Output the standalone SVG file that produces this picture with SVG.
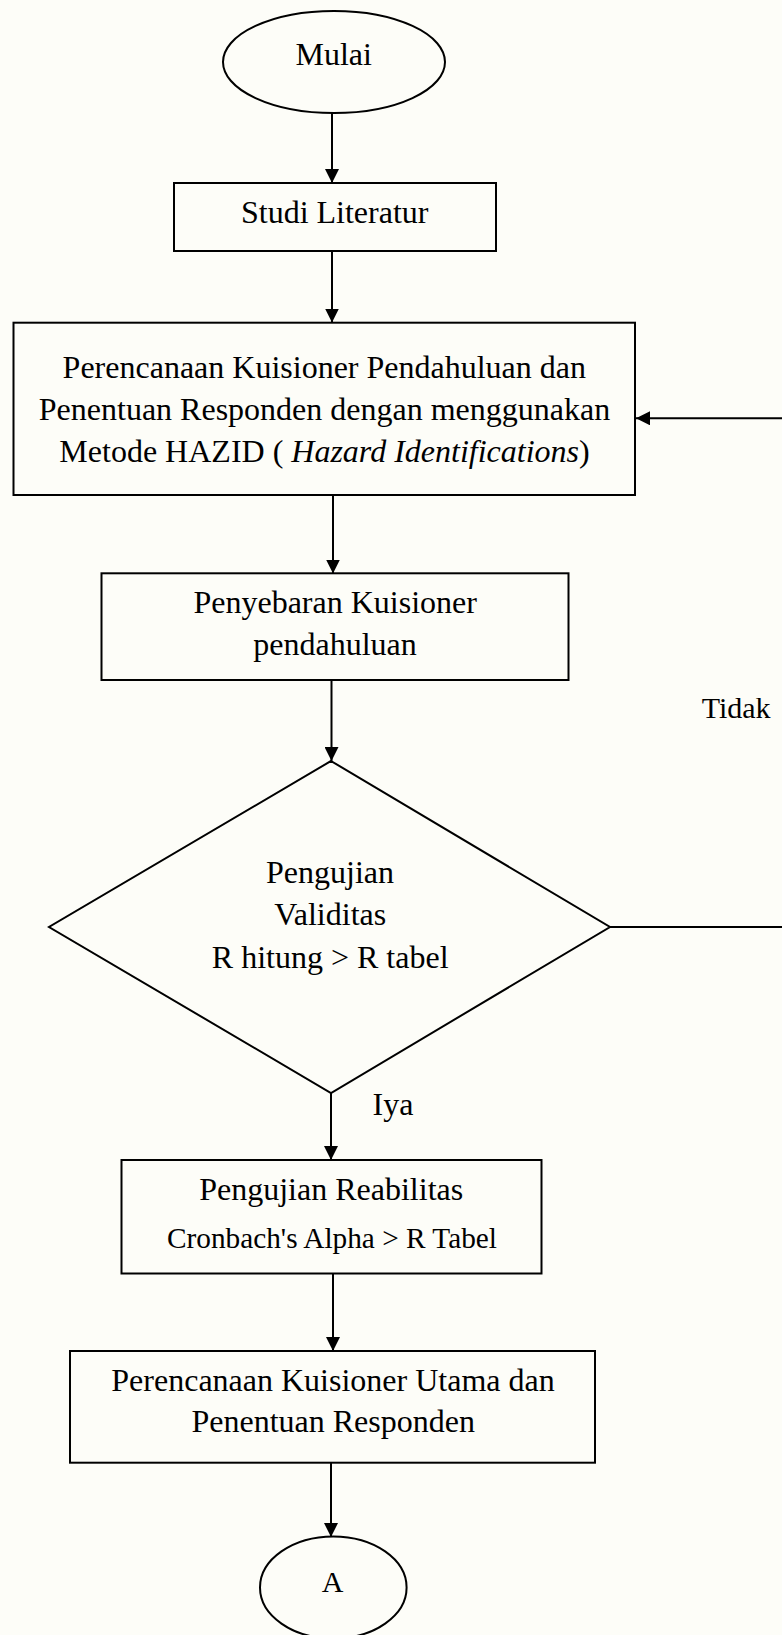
<svg xmlns="http://www.w3.org/2000/svg" width="782" height="1635" viewBox="0 0 782 1635">
<style>
  .shape { fill: none; stroke: #000; stroke-width: 2; }
  .edge { fill: none; stroke: #000; stroke-width: 2; }
  .t { font-family: "Liberation Serif", "Times New Roman", serif; font-size: 32px; fill: #000; text-anchor: middle; }
  .s { font-size: 29.3px; }
  .lbl { font-family: "Liberation Serif", "Times New Roman", serif; font-size: 30px; fill: #000; }
</style>
<defs>
  <marker id="arrow" viewBox="0 0 14 14" markerWidth="14" markerHeight="14" refX="14" refY="7" orient="auto" markerUnits="userSpaceOnUse">
    <path d="M0,0 L14,7 L0,14 z" fill="#000"/>
  </marker>
</defs>
<rect x="0" y="0" width="782" height="1635" fill="#fdfdf8"/>

<g id="connectors">
  <line class="edge" x1="332" y1="113" x2="332" y2="183" marker-end="url(#arrow)"/>
  <line class="edge" x1="332" y1="251" x2="332" y2="322.5" marker-end="url(#arrow)"/>
  <line class="edge" x1="333" y1="495" x2="333" y2="573.5" marker-end="url(#arrow)"/>
  <line class="edge" x1="331.5" y1="680" x2="331.5" y2="761" marker-end="url(#arrow)"/>
  <line class="edge" x1="331" y1="1093" x2="331" y2="1160" marker-end="url(#arrow)"/>
  <line class="edge" x1="333" y1="1273.5" x2="333" y2="1351" marker-end="url(#arrow)"/>
  <line class="edge" x1="331" y1="1463" x2="331" y2="1537" marker-end="url(#arrow)"/>
  <line class="edge" x1="610" y1="927" x2="782" y2="927"/>
  <line class="edge" x1="782" y1="418.3" x2="636" y2="418.3" marker-end="url(#arrow)"/>
  <text class="lbl" x="701.7" y="718">Tidak</text>
  <text class="lbl" x="372.5" y="1115" style="font-size:32px">Iya</text>
</g>

<g id="mulai">
  <ellipse class="shape" cx="334" cy="62" rx="111" ry="51"/>
  <text class="t" x="333.7" y="65">Mulai</text>
</g>

<g id="studi-literatur">
  <rect class="shape" x="174" y="183" width="322" height="68"/>
  <text class="t" x="334.7" y="222.7">Studi Literatur</text>
</g>

<g id="perencanaan-pendahuluan">
  <rect class="shape" x="13.5" y="322.7" width="621.5" height="172.3"/>
  <text class="t" x="324.3" y="378.3">Perencanaan Kuisioner Pendahuluan dan</text>
  <text class="t" x="324.5" y="419.8">Penentuan Responden dengan menggunakan</text>
  <text class="t" x="324.5" y="461.7">Metode HAZID ( <tspan font-style="italic">Hazard Identifications</tspan>)</text>
</g>

<g id="penyebaran">
  <rect class="shape" x="101.5" y="573.3" width="467" height="106.7"/>
  <text class="t" x="335.2" y="613.3">Penyebaran Kuisioner</text>
  <text class="t" x="335" y="655">pendahuluan</text>
</g>

<g id="validitas">
  <polygon class="shape" points="331,761 610,927 331,1093 49,927"/>
  <text class="t" x="330" y="883.3">Pengujian</text>
  <text class="t" x="330.2" y="925">Validitas</text>
  <text class="t" x="330.2" y="968.3">R hitung &gt; R tabel</text>
</g>

<g id="reabilitas">
  <rect class="shape" x="121.5" y="1160" width="420" height="113.5"/>
  <text class="t" x="331.2" y="1200">Pengujian Reabilitas</text>
  <text class="t s" x="332" y="1248">Cronbach's Alpha &gt; R Tabel</text>
</g>

<g id="perencanaan-utama">
  <rect class="shape" x="70" y="1351" width="525" height="111.7"/>
  <text class="t" x="333" y="1390.5">Perencanaan Kuisioner Utama dan</text>
  <text class="t" x="333.2" y="1432">Penentuan Responden</text>
</g>

<g id="konektor-a">
  <ellipse class="shape" cx="333.3" cy="1587.5" rx="73.3" ry="51"/>
  <text class="t" x="332.5" y="1591.7" style="font-size:30px">A</text>
</g>
</svg>
